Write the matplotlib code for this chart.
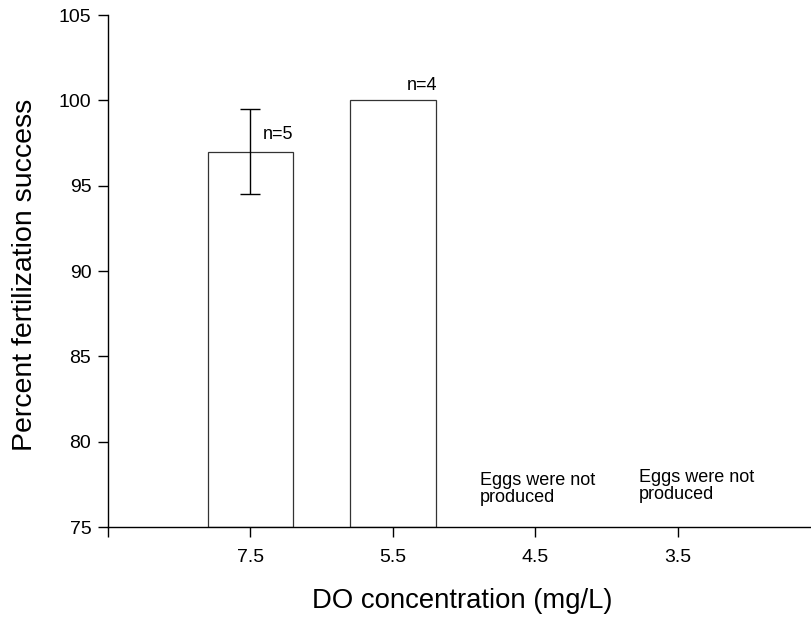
import matplotlib
matplotlib.use("Agg")
import matplotlib.pyplot as plt

plt.rcParams['font.family'] = ['Liberation Sans', 'DejaVu Sans']

categories = ['7.5', '5.5', '4.5', '3.5']
values = [97.0, 100.0]
errors = [2.5, 0.0]
n_labels = ['n=5', 'n=4']
note = 'Eggs were not\nproduced'

fig = plt.figure(figsize=(8.11, 6.17), dpi=100)
ax = fig.add_axes([108/811, 90/617, 712.5/811, 512/617])

pos = [1, 2, 3, 4]
bottom = 75
ax.bar(pos[:2], [v - bottom for v in values], bottom=bottom, width=0.6,
       color='white', edgecolor='#333333', linewidth=0.9, zorder=2)
ax.errorbar([pos[0]], [values[0]], yerr=[errors[0]], fmt='none',
            ecolor='black', elinewidth=1.0, capsize=7, capthick=1.0, zorder=3)

ax.text(1.088, 97.98, n_labels[0], fontsize=13, ha='left', va='center')
ax.text(2.098, 100.85, n_labels[1], fontsize=13, ha='left', va='center')
ax.text(2.61, 77.2, note, fontsize=13, ha='left', va='center', linespacing=1.0)
ax.text(3.726, 77.4, note, fontsize=13, ha='left', va='center', linespacing=1.0)

ax.set_xlim(0, 5)
ax.set_ylim(75, 105)
ax.set_xticks([0] + pos)
ax.set_xticklabels([''] + categories)
ax.set_yticks([75, 80, 85, 90, 95, 100, 105])
ax.tick_params(axis='both', direction='out', length=7, width=1.0, labelsize=14, pad=5)
ax.tick_params(axis='x', pad=9)
for s in ['top', 'right']:
    ax.spines[s].set_visible(False)
for s in ['left', 'bottom']:
    ax.spines[s].set_linewidth(1.0)

ax.set_ylabel('Percent fertilization success', fontsize=20.5)
ax.set_xlabel('DO concentration (mg/L)', fontsize=19.8)
ax.xaxis.set_label_coords(0.497, -(588 - 527) / 512)
ax.yaxis.set_label_coords(-(108 - 38) / 712.5, (527 - 275) / 512)

fig.savefig('out.png', dpi=100)
